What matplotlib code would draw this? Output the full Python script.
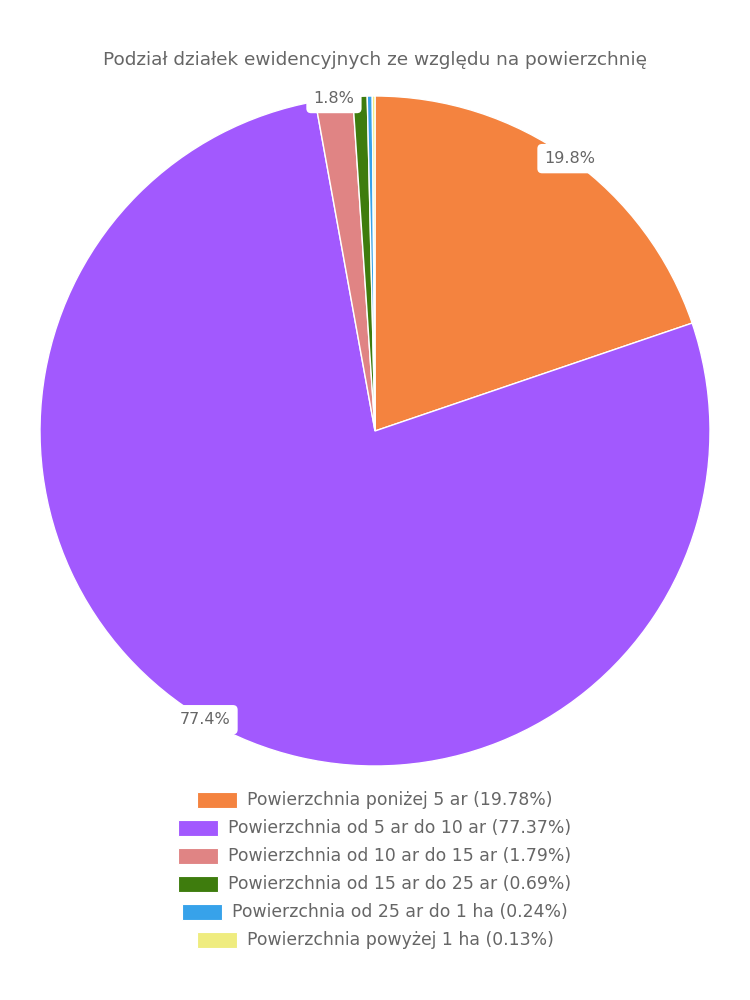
import matplotlib
matplotlib.use("Agg")
import matplotlib.pyplot as plt
from matplotlib.patches import Rectangle
import numpy as np

plt.rcParams['font.family'] = ['DejaVu Sans']

title = "Podział działek ewidencyjnych ze względu na powierzchnię"
categories = [
    "Powierzchnia poniżej 5 ar",
    "Powierzchnia od 5 ar do 10 ar",
    "Powierzchnia od 10 ar do 15 ar",
    "Powierzchnia od 15 ar do 25 ar",
    "Powierzchnia od 25 ar do 1 ha",
    "Powierzchnia powyżej 1 ha",
]
values = [19.78, 77.37, 1.79, 0.69, 0.24, 0.13]
colors = ["#f4833f", "#a259fe", "#e08484", "#3e7c0d", "#37a2ea", "#efec7f"]

W, H = 750, 1000
fig = plt.figure(figsize=(7.5, 10), dpi=100)
cx, cy, R = 375, 431, 335
ax = fig.add_axes([(cx - R) / W, 1 - (cy + R) / H, 2 * R / W, 2 * R / H])

wedges, _ = ax.pie(values, colors=colors, startangle=90, counterclock=False,
                   radius=1, wedgeprops=dict(edgecolor='white', linewidth=1))
ax.set_xlim(-1, 1)
ax.set_ylim(-1, 1)
ax.set_aspect('equal')
ax.axis('off')

total = sum(values)
cum = 0
for v in values:
    mid = (cum + v / 2) / total * 2 * np.pi
    cum += v
    if v / total * 100 < 1:
        continue
    x, y = np.sin(mid), np.cos(mid)
    ax.text(x, y, f"{v / total * 100:.1f}%", ha='center', va='center',
            fontsize=11.5, color='#666666', zorder=5, clip_on=False,
            bbox=dict(boxstyle='round,pad=0.45,rounding_size=0.3', fc='white', ec='none'))

fig.text(0.5, 1 - 60 / H, title, ha='center', va='center', fontsize=13.3, color='#666666')

# legend: each row centered
fig.canvas.draw()
renderer = fig.canvas.get_renderer()
box_w, box_h, gap = 40, 16, 10
row_y0, row_dy = 800, 28
for i, (cat, v, c) in enumerate(zip(categories, values, colors)):
    yc = row_y0 + i * row_dy
    t = fig.text(0, 1 - yc / H, f"{cat} ({v:.2f}%)", ha='left', va='center',
                 fontsize=12.4, color='#666666')
    tw = t.get_window_extent(renderer).width
    total_w = box_w + gap + tw
    x0 = (W - total_w) / 2
    t.set_x((x0 + box_w + gap) / W)
    fig.patches.append(Rectangle(((x0) / W, 1 - (yc + box_h / 2) / H), box_w / W, box_h / H,
                                 transform=fig.transFigure, facecolor=c, edgecolor='white',
                                 linewidth=0.8, figure=fig))

fig.savefig("out.png", dpi=100)
